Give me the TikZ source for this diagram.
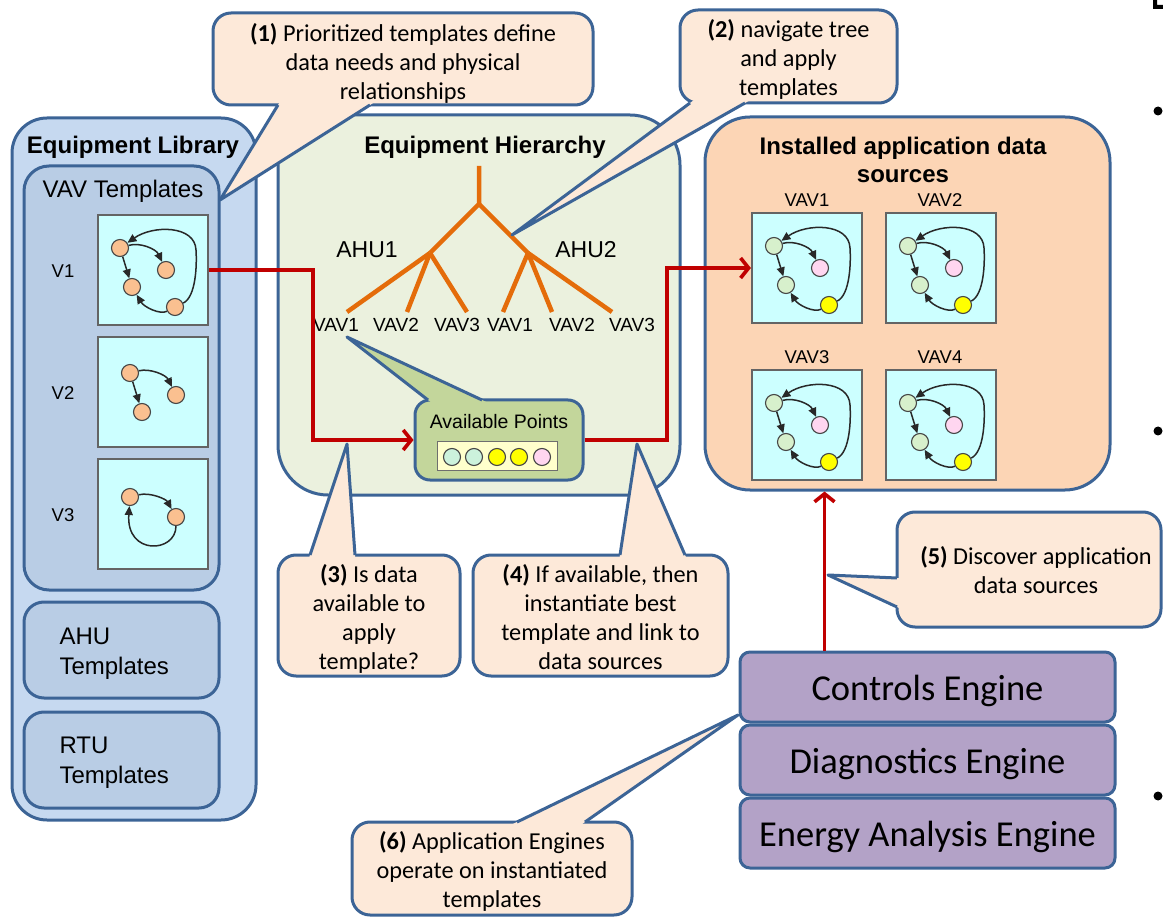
\documentclass[tikz,border=0pt]{standalone}
\usepackage{fontspec}
\setmainfont{Liberation Sans}
\newfontfamily\calib{Carlito}
\usetikzlibrary{arrows.meta,calc}
\definecolor{bdr}{RGB}{60,100,150}
\definecolor{libfill}{RGB}{198,217,240}
\definecolor{vavfill}{RGB}{185,205,229}
\definecolor{hierfill}{RGB}{235,241,222}
\definecolor{instfill}{RGB}{252,213,181}
\definecolor{callfill}{RGB}{253,233,217}
\definecolor{apfill}{RGB}{195,214,155}
\definecolor{engfill}{RGB}{179,162,199}
\definecolor{icofill}{RGB}{204,255,255}
\definecolor{dorange}{RGB}{250,192,144}
\definecolor{dgreen}{RGB}{215,240,204}
\definecolor{dmint}{RGB}{204,242,220}
\definecolor{dpink}{RGB}{255,214,240}
\definecolor{dyellow}{RGB}{255,255,0}
\definecolor{treeor}{RGB}{228,108,10}
\definecolor{redc}{RGB}{192,0,0}
\definecolor{stripfill}{RGB}{255,255,204}
\newcommand\calltail[4]{%
  \fill[#4] ($(#1)!-5pt!(#2)$) -- (#2) -- ($(#3)!-5pt!(#2)$) -- cycle;
  \draw[bdline] (#1) -- (#2) -- (#3);}
\begin{document}
\begin{tikzpicture}[x=1pt,y=-1pt,
  bdline/.style={draw=bdr,line width=3pt,line join=round},
  bigbox/.style={draw=bdr,line width=3pt,inner sep=0pt},
  callout/.style={draw=bdr,fill=callfill,line width=3pt,rounded corners=18pt,inner sep=0pt},
  ctext/.style={font=\calib\fontsize{24.3}{29}\selectfont,align=center},
  engine/.style={draw=bdr,fill=engfill,line width=3pt,rounded corners=10pt,inner sep=0pt,
     minimum width=375pt,minimum height=70pt},
  etext/.style={font=\calib\fontsize{36.5}{40}\selectfont},
  title/.style={font=\bfseries\fontsize{24}{28}\selectfont,align=center},
  lbl/.style={font=\fontsize{19}{22}\selectfont},
  icobox/.style={draw={rgb,255:red,100;green,100;blue,100},line width=2.2pt,fill=icofill,
     minimum size=110pt,inner sep=0pt},
  dot/.style={circle,draw={rgb,255:red,70;green,70;blue,70},line width=1.1pt,minimum size=17pt,inner sep=0pt},
  icoarr/.style={draw={rgb,255:red,40;green,40;blue,40},line width=1.5pt,-{Triangle[length=9pt,width=8pt]}},
  redarr/.style={draw=redc,line width=3.6pt,-{Straight Barb[length=8pt,width=20pt]}},
  treeline/.style={draw=treeor,line width=4.5pt},
  pics/fullicon/.style n args={4}{code={
    \node[icobox] (-box) at (55,55) {};
    \node[dot,fill=#1] (-a) at (22,33) {};
    \node[dot,fill=#2] (-b) at (68,55) {};
    \node[dot,fill=#3] (-c) at (34,72) {};
    \node[dot,fill=#4] (-d) at (77,92) {};
    \draw[icoarr] (-a) .. controls (42,27) and (58,34) .. (-b);
    \draw[icoarr] (-a) -- (-c);
    \draw[icoarr] (-d) .. controls (62,100) and (46,92) .. (-c);
    \draw[icoarr] (-d) .. controls (98,82) and (99,50) .. (98,35) .. controls (97,10) and (55,10) .. (-a);
  }},
  pics/twoicon/.style={code={
    \node[icobox] (-box) at (55,55) {};
    \node[dot,fill=dorange] (-a) at (32,36) {};
    \node[dot,fill=dorange] (-b) at (78,58) {};
    \node[dot,fill=dorange] (-c) at (44,75) {};
    \draw[icoarr] (-a) .. controls (52,31) and (68,38) .. (-b);
    \draw[icoarr] (-a) -- (-c);
  }},
  pics/loopicon/.style={code={
    \node[icobox] (-box) at (55,55) {};
    \node[dot,fill=dorange] (-a) at (32,38) {};
    \node[dot,fill=dorange] (-b) at (78,58) {};
    \draw[icoarr] (-a) .. controls (52,33) and (68,40) .. (-b);
    \draw[icoarr] (-b) .. controls (78,94) and (28,97) .. (-a);
  }}
]
\useasboundingbox (0,0) rectangle (1163,917);

% ---------- Equipment library ----------
\node[bigbox,fill=libfill,rounded corners=35pt,minimum width=244pt,minimum height=702pt] (lib) at (134,469) {};
\node[title] (libt) at (133,147) {Equipment Library};
\node[bigbox,fill=vavfill,rounded corners=25pt,minimum width=195pt,minimum height=424pt] (vavt) at (121.5,378) {};
\node[font=\fontsize{24}{28}\selectfont] (vavtt) at (123,191) {VAV Templates};
\pic (v1) at (98,215) {fullicon={dorange}{dorange}{dorange}{dorange}};
\pic (v2) at (98,337) {twoicon};
\pic (v3) at (98,459) {loopicon};
\node[font=\fontsize{18.5}{22}\selectfont] (v1l) at (63,271) {V1};
\node[font=\fontsize{18.5}{22}\selectfont] (v2l) at (63,393) {V2};
\node[font=\fontsize{18.5}{22}\selectfont] (v3l) at (63,515) {V3};
\node[bigbox,fill=vavfill,rounded corners=20pt,minimum width=195pt,minimum height=96pt] (ahut) at (121.5,650) {};
\node[anchor=west,align=left,font=\fontsize{24}{30}\selectfont] (ahutt) at (56,654) {AHU\\Templates};
\node[bigbox,fill=vavfill,rounded corners=20pt,minimum width=195pt,minimum height=96pt] (rtut) at (121.5,760) {};
\node[anchor=west,align=left,font=\fontsize{24}{30}\selectfont] (rtutt) at (56,763) {RTU\\Templates};

% ---------- Equipment hierarchy ----------
\node[bigbox,fill=hierfill,rounded corners=50pt,minimum width=402pt,minimum height=380pt] (hier) at (479,305) {};
\node[title] (hiert) at (485,147) {Equipment Hierarchy};
\coordinate (root) at (479,166);
\coordinate (rj) at (479,204);
\coordinate (j1) at (430,253);
\coordinate (j2) at (528,253);
\node[lbl] (l1) at (336,325) {VAV1};
\node[lbl] (l2) at (396,325) {VAV2};
\node[lbl] (l3) at (457,325) {VAV3};
\node[lbl] (l4) at (510,325) {VAV1};
\node[lbl] (l5) at (572,325) {VAV2};
\node[lbl] (l6) at (632,325) {VAV3};
\node[font=\fontsize{23}{28}\selectfont] (ahu1) at (367,250) {AHU1};
\node[font=\fontsize{23}{28}\selectfont] (ahu2) at (586,250) {AHU2};
\draw[treeline] (root) -- (rj) -- (j1);
\draw[treeline] (rj) -- (j2);
\draw[treeline] (j1) -- (347,312);
\draw[treeline] (j1) -- (407,312);
\draw[treeline] (j1) -- (467,312);
\draw[treeline] (j2) -- (503,312);
\draw[treeline] (j2) -- (552,312);
\draw[treeline] (j2) -- (612,312);

% ---------- Available points ----------
\node[bigbox,fill=apfill,rounded corners=15pt,minimum width=168pt,minimum height=80pt] (ap) at (499,440) {};
\calltail{428,400}{347,337}{482,400}{apfill}
\node[font=\fontsize{19.5}{22}\selectfont] (apt) at (499,422) {Available Points};
\node[draw={rgb,255:red,110;green,110;blue,110},line width=1.8pt,fill=stripfill,minimum width=120pt,minimum height=29pt,inner sep=0pt] (strip) at (497.5,456) {};
\node[dot,fill=dmint] (p1) at (452,457) {};
\node[dot,fill=dmint] (p2) at (474,457) {};
\node[dot,fill=dyellow] (p3) at (497,457) {};
\node[dot,fill=dyellow] (p4) at (519,457) {};
\node[dot,fill=dpink] (p5) at (542,457) {};

% ---------- Installed application data sources ----------
\node[bigbox,fill=instfill,rounded corners=45pt,minimum width=405pt,minimum height=373pt] (inst) at (907.5,303.5) {};
\node[title] (instt) at (903,160) {Installed application data\\sources};
\pic (i1) at (752,213) {fullicon={dgreen}{dpink}{dgreen}{dyellow}};
\pic (i2) at (886,213) {fullicon={dgreen}{dpink}{dgreen}{dyellow}};
\pic (i3) at (752,370) {fullicon={dgreen}{dpink}{dgreen}{dyellow}};
\pic (i4) at (886,370) {fullicon={dgreen}{dpink}{dgreen}{dyellow}};
\node[font=\fontsize{18.5}{22}\selectfont] (i1l) at (807,200) {VAV1};
\node[font=\fontsize{18.5}{22}\selectfont] (i2l) at (940,200) {VAV2};
\node[font=\fontsize{18.5}{22}\selectfont] (i3l) at (807,357) {VAV3};
\node[font=\fontsize{18.5}{22}\selectfont] (i4l) at (940,357) {VAV4};

% ---------- Engines ----------
\node[engine] (ce) at (927.5,687) {};
\node[engine] (de) at (927.5,760) {};
\node[engine] (ee) at (927.5,833) {};
\node[etext] (cet) at (927.5,691) {Controls Engine};
\node[etext] (det) at (927.5,764.5) {Diagnostics Engine};
\node[etext] (eet) at (927.5,837) {Energy Analysis Engine};

% ---------- Red connectors ----------
\draw[redarr] (v1-box.east) -- (313,270) |- (ap.west);
\draw[redarr] (ap.east) -- (667,440) |- (i1-box.west);
\draw[redarr] ([xshift=86pt]ce.north west) -- ([xshift=86pt]ce.north west |- inst.south);

% ---------- Callouts ----------
\node[callout,minimum width=380pt,minimum height=92pt] (c1) at (403,59) {};
\calltail{278,105}{220,200}{370,105}{callfill}
\node[ctext] (c1t) at (403,63) {\textbf{(1)} Prioritized templates define\\data needs and physical\\relationships};
\node[callout,minimum width=217pt,minimum height=93pt] (c2) at (788.5,56.5) {};
\calltail{690,103}{512,235}{745,103}{callfill}
\node[ctext] (c2t) at (788.5,59.5) {\textbf{(2)} navigate tree\\and apply\\templates};
\node[callout,minimum width=182pt,minimum height=121pt] (c3) at (369,615.5) {};
\calltail{310,555}{347,444}{355,555}{callfill}
\node[ctext] (c3t) at (369,618.5) {\textbf{(3)} Is data\\available to\\apply\\template?};
\node[callout,minimum width=255pt,minimum height=121pt] (c4) at (600.5,615.5) {};
\calltail{620,555}{637,444}{685,555}{callfill}
\node[ctext] (c4t) at (600.5,617.5) {\textbf{(4)} If available, then\\instantiate best\\template and link to\\data sources};
\node[callout,minimum width=264pt,minimum height=115pt] (c5) at (1029,569.5) {};
\calltail{897,578}{828,575}{897,607}{callfill}
\node[ctext] (c5t) at (1036,570.5) {\textbf{(5)} Discover application\\data sources};
\node[callout,minimum width=280pt,minimum height=93pt] (c6) at (492,868.5) {};
\calltail{517,822}{738,715}{585,822}{callfill}
\node[ctext] (c6t) at (492,871.5) {\textbf{(6)} Application Engines\\operate on instantiated\\templates};

% ---------- slide edge marks ----------
\fill (1158,111) circle (4.5);
\fill (1158,431) circle (4.5);
\fill (1158,796) circle (4.5);
\fill (1153,0) -- (1157,0) -- (1157,5) -- (1163,5) -- (1163,9) -- (1153,9) -- cycle;
\end{tikzpicture}
\end{document}
